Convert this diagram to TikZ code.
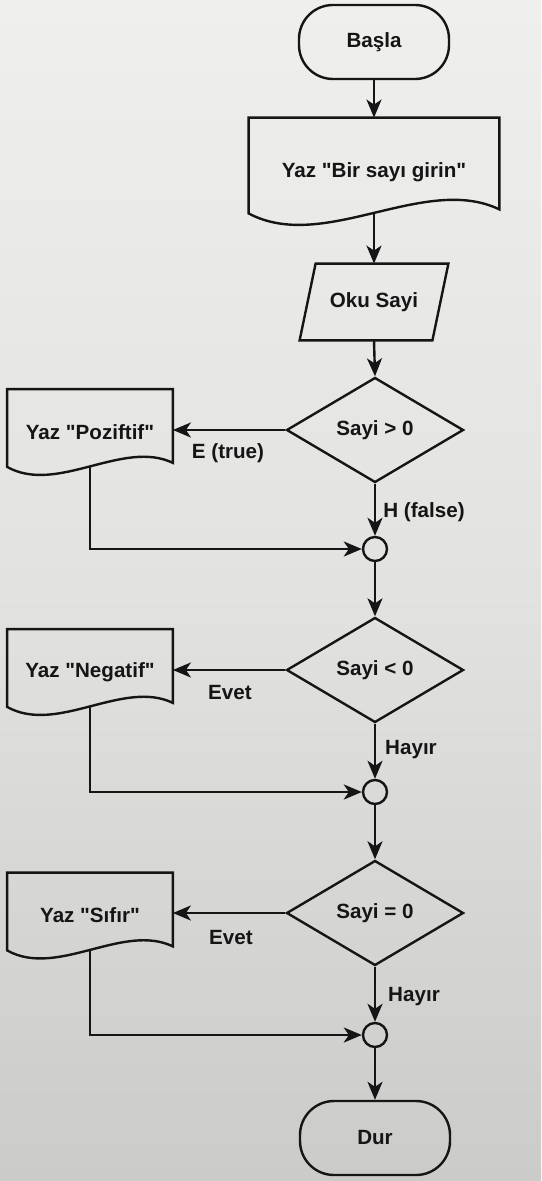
\documentclass[tikz,border=0pt]{standalone}
\usepackage{fontspec}
\setmainfont{Liberation Sans}[Ligatures=TeXOff]
\usetikzlibrary{shapes.geometric,arrows.meta,calc}
\definecolor{ink}{HTML}{151515}
\definecolor{papertop}{HTML}{EFEFED}
\definecolor{papermid}{HTML}{E2E2E0}
\definecolor{paperbot}{HTML}{CBCBCA}
\newcommand{\dropby}[2]{\raisebox{-#1}[\height][\depth]{#2}}
\newcommand{\docoutline}[3]{%
  \draw[line, line join=miter] (#1.north west) -- (#1.south west)
    .. controls ($(#1.south west)+(#2)$) and ($(#1.south east)+(#3)$) ..
    ($(#1.south east)+(0,-4)$) -- (#1.north east) -- cycle;}
\begin{document}
\begin{tikzpicture}[x=0.5pt,y=-0.5pt,
  font=\fontsize{10.3}{12}\selectfont\bfseries,
  every node/.style={text=ink},
  line/.style={draw=ink, line width=1.2pt},
  flow/.style={line, -{Stealth[length=9pt,width=7.5pt,inset=2.5pt]}},
  term/.style={draw=ink, line width=1.2pt, rounded corners=17pt, minimum width=75pt, minimum height=37pt, inner sep=0},
  bigdoc/.style={minimum width=125pt, minimum height=47.5pt, inner sep=0},
  docbox/.style={minimum width=82.5pt, minimum height=38.5pt, inner sep=0},
  iobox/.style={minimum width=66pt, minimum height=38pt, inner sep=0},
  dec/.style={diamond, draw=ink, line width=1.2pt, minimum width=88.5pt, minimum height=52.5pt, inner sep=0},
  junction/.style={circle, draw=ink, line width=1.2pt, minimum size=12pt, inner sep=0},
  lbl/.style={inner sep=0}]
\useasboundingbox (0,0) rectangle (541,1181);
\shade[top color=papertop, bottom color=paperbot, middle color=papermid] (0,0) rectangle (541,1181);

% nodes
\node[term] (start) at (374,42) {Başla};
\node[bigdoc] (p0) at (374,165.5) {\dropby{3.5pt}{Yaz "Bir sayı girin"}};
\node[iobox] (oku) at (374,302) {Oku Sayi};
\node[dec] (d1) at (375,430) {Sayi > 0};
\node[docbox] (pos) at (90,428) {\dropby{2pt}{Yaz "Poziftif"}};
\node[junction] (c1) at (375,549) {};
\node[dec] (d2) at (375,670) {Sayi < 0};
\node[docbox] (neg) at (90,668) {\dropby{2pt}{Yaz "Negatif"}};
\node[junction] (c2) at (375,792) {};
\node[dec] (d3) at (375,913) {Sayi = 0};
\node[docbox] (sif) at (90,911.5) {\dropby{2pt}{Yaz "Sıfır"}};
\node[junction] (c3) at (375,1035) {};
\node[term] (stop) at (375,1138) {Dur};

% outlines
\docoutline{p0}{75,40}{-75,-40}
\docoutline{pos}{50,28}{-50,-28}
\docoutline{neg}{50,28}{-50,-28}
\docoutline{sif}{50,28}{-50,-28}
\draw[line, line join=miter] ($(oku.south west)+(-8,0)$) -- ($(oku.north west)+(8,0)$)
  -- ($(oku.north east)+(8,0)$) -- ($(oku.south east)+(-8,0)$) -- cycle;

% labels
\node[lbl] (l1) at (228,453) {E (true)};
\node[lbl] (l2) at (424,512) {H (false)};
\node[lbl] (l3) at (230,693) {Evet};
\node[lbl] (l4) at (411,750) {Hayır};
\node[lbl] (l5) at (231,938) {Evet};
\node[lbl] (l6) at (414,997) {Hayır};

% connectors
\draw[flow] (start.south) -- (p0.north);
\draw[flow] (p0.south) -- (oku.north);
\draw[flow] (oku.south) -- (d1.north);
\draw[flow] (d1.west) -- (d1.west -| pos.east);
\draw[flow] (d1.south) -- (c1.north);
\draw[flow] (pos.south) |- (c1.west);
\draw[flow] (c1.south) -- (d2.north);
\draw[flow] (d2.west) -- (d2.west -| neg.east);
\draw[flow] (d2.south) -- (c2.north);
\draw[flow] (neg.south) |- (c2.west);
\draw[flow] (c2.south) -- (d3.north);
\draw[flow] (d3.west) -- (d3.west -| sif.east);
\draw[flow] (d3.south) -- (c3.north);
\draw[flow] (sif.south) |- (c3.west);
\draw[flow] (c3.south) -- (stop.north);
\end{tikzpicture}
\end{document}
